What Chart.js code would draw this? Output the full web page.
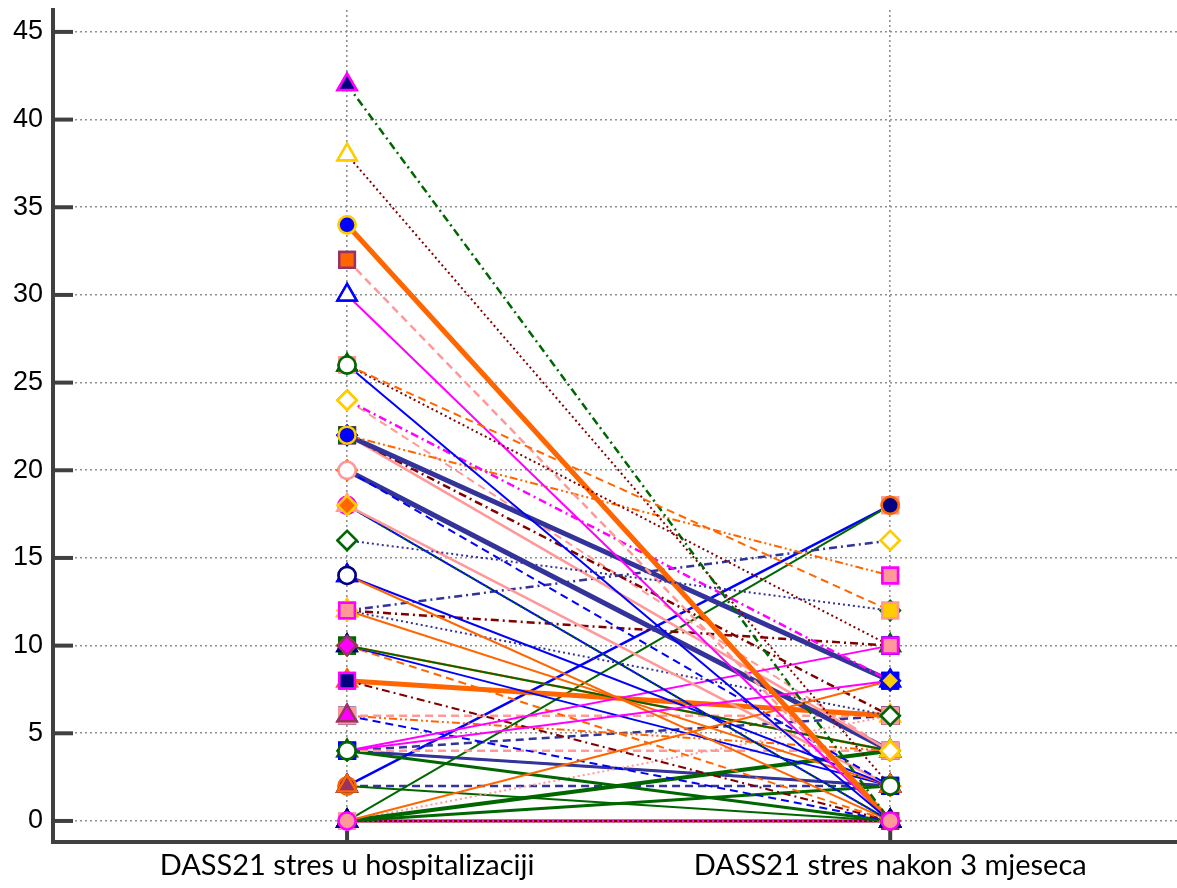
<!DOCTYPE html>
<html>
<head>
<meta charset="utf-8">
<script src="https://cdn.jsdelivr.net/npm/chart.js@4"></script>
<style>
  html, body { margin: 0; padding: 0; background: #fff; }
  #box { width: 1177px; height: 888px; }
</style>
</head>
<body>
<div id="box"><canvas id="chart"></canvas></div>
<script>
// the two measurements
const CATEGORIES = ["DASS21 stres u hospitalizaciji", "DASS21 stres nakon 3 mjeseca"];
const Y_TICKS = [0, 5, 10, 15, 20, 25, 30, 35, 40, 45];

// one entry per patient, paired: stress in hospital -> stress after 3 months
const inHospital = [16, 26, 26, 26, 42, 38, 34, 32, 30, 24, 4, 0, 22, 22, 22, 22, 20, 20, 18, 18,
  18, 14, 14, 12, 12, 12, 4, 12, 10, 10, 10, 10, 8, 8, 6, 6, 6, 0, 4, 4,
  0, 4, 24, 0, 2, 2, 0, 4, 2, 4, 0, 0];
const afterThreeMonths = [12, 12, 10, 0, 0, 2, 0, 0, 0, 8, 8, 8, 14, 8, 6, 4, 2, 4, 2, 0,
  0, 0, 2, 16, 2, 6, 10, 10, 4, 4, 2, 0, 0, 6, 6, 4, 0, 4, 4, 0,
  6, 6, 4, 18, 18, 0, 2, 2, 2, 2, 0, 0];

const C = {
  green: "#006600", maroon: "#800000", orange: "#ff6600", pink: "#ff9999",
  magenta: "#ff00ff", blue: "#0000ff", navy: "#000080", slate: "#333399",
  gold: "#ffcc00", purple: "#993366", white: "#ffffff"
};
const DASH = { solid: [], dot: [2, 3], dash: [8, 5], dd: [8, 4, 2, 4], ddd: [8, 3, 2, 3, 2, 3] };

// line colour, dash, width
const lineStyle = [
  ["slate","dot",2], ["orange","dash",2], ["maroon","dot",2], ["blue","solid",2], ["green","dd",2.5],
  ["maroon","dot",2], ["orange","solid",5], ["pink","dash",2.5], ["magenta","solid",2], ["magenta","dd",2.5],
  ["magenta","solid",2], ["orange","solid",2], ["orange","ddd",2], ["slate","solid",5], ["maroon","dd",2.5],
  ["pink","solid",2.5], ["blue","dash",2], ["slate","solid",5], ["pink","solid",2.5], ["green","dot",2],
  ["blue","solid",2], ["orange","solid",2], ["blue","solid",2], ["slate","dd",2.5], ["orange","solid",2],
  ["slate","dot",2], ["magenta","solid",2], ["maroon","dd",2.5], ["green","solid",2], ["orange","solid",2.5],
  ["blue","solid",2], ["orange","dash",2], ["maroon","dd",2], ["orange","solid",5], ["pink","dash",2.5],
  ["orange","ddd",2], ["blue","dash",2], ["green","solid",4], ["pink","dash",2.5], ["green","solid",3],
  ["pink","dot",2], ["slate","dash",2.5], ["pink","dash",2], ["green","solid",2], ["blue","solid",2.5],
  ["green","solid",2], ["green","solid",3], ["slate","solid",3], ["slate","dash",2.5], ["slate","dd",2],
  ["magenta","dot",2.5], ["maroon","solid",3]
];

// marker shape, fill, border
const markerStyle = [
  ["rectRot","white","green"], ["rect","gold","pink"], ["triangle","navy","green"], ["circle","white","green"],
  ["triangle","navy","magenta"], ["triangle","white","gold"], ["circle","blue","gold"], ["rect","orange","purple"],
  ["triangle","white","blue"], ["rectRot","white","gold"], ["rect","blue","blue"], ["triangle","white","blue"],
  ["rect","pink","magenta"], ["rectRot","gold","blue"], ["rect","green","green"], ["circle","blue","gold"],
  ["rectRot","orange","orange"], ["circle","white","pink"], ["circle","magenta","magenta"], ["triangle","pink","pink"],
  ["rectRot","orange","gold"], ["triangle","white","blue"], ["circle","white","navy"], ["rectRot","white","gold"],
  ["triangle","gold","gold"], ["triangle","gold","gold"], ["rect","blue","blue"], ["rect","pink","magenta"],
  ["rect","green","green"], ["rectRot","orange","orange"], ["triangle","navy","navy"], ["rectRot","magenta","purple"],
  ["triangle","white","orange"], ["rect","navy","magenta"], ["rect","navy","navy"], ["rect","pink","pink"],
  ["triangle","magenta","purple"], ["triangle","green","green"], ["triangle","gold","gold"], ["triangle","green","green"],
  ["rect","pink","pink"], ["rectRot","white","green"], ["rectRot","white","gold"], ["rect","pink","pink"],
  ["circle","navy","orange"], ["triangle","navy","navy"], ["triangle","white","blue"], ["rect","blue","blue"],
  ["triangle","purple","orange"], ["circle","white","green"], ["triangle","navy","navy"], ["circle","pink","magenta"]
];

const RADIUS = { circle: 8.5, rect: 11, rectRot: 9.5, triangle: 11 };
const AXIS = "#404040";

const datasets = inHospital.map((v, i) => {
  const [col, dash, w] = lineStyle[i];
  const [shape, fill, edge] = markerStyle[i];
  return {
    data: [{ x: 1, y: v }, { x: 2, y: afterThreeMonths[i] }],
    borderColor: C[col],
    borderDash: DASH[dash],
    borderWidth: w,
    pointStyle: shape,
    pointRadius: RADIUS[shape],
    pointBackgroundColor: C[fill],
    pointBorderColor: C[edge],
    pointBorderWidth: 2.5,
    clip: false
  };
});

// all markers sit above all lines, later patients on top
const markersOnTop = {
  id: "markersOnTop",
  afterDatasetsDraw(chart) {
    const ctx = chart.ctx;
    chart.data.datasets.forEach((d, i) => {
      chart.getDatasetMeta(i).data.forEach(p => p.draw(ctx, chart.chartArea));
    });
  }
};

// tick marks point into the plot
const innerTicks = {
  id: "innerTicks",
  afterDraw(chart) {
    const ctx = chart.ctx;
    const a = chart.chartArea;
    ctx.save();
    ctx.strokeStyle = AXIS;
    ctx.lineWidth = 4;
    ctx.setLineDash([]);
    for (const v of Y_TICKS) {
      const y = chart.scales.y.getPixelForValue(v);
      ctx.beginPath();
      ctx.moveTo(a.left, y);
      ctx.lineTo(a.left + 20, y);
      ctx.stroke();
    }
    for (const v of [1, 2]) {
      const x = chart.scales.x.getPixelForValue(v);
      ctx.beginPath();
      ctx.moveTo(x, a.bottom);
      ctx.lineTo(x, a.bottom - 11);
      ctx.stroke();
    }
    ctx.restore();
  }
};

const grid = {
  color: "#8f8f8f",
  lineWidth: 1.6,
  drawTicks: false
};

new Chart(document.getElementById("chart").getContext("2d"), {
  type: "line",
  data: { datasets },
  options: {
    responsive: true,
    maintainAspectRatio: false,
    animation: false,
    layout: { autoPadding: false, padding: { top: 10, right: 0, left: 0, bottom: 0 } },
    scales: {
      x: {
        type: "linear",
        min: 0.4586,
        max: 2.528,
        afterBuildTicks: s => { s.ticks = [{ value: 1 }, { value: 2 }]; },
        afterFit: s => { s.height = 46; s.paddingLeft = 0; s.paddingRight = 0; },
        grid: grid,
        border: { display: true, color: AXIS, width: 4, dash: [2, 3] },
        ticks: {
          padding: 6,
          color: "#000",
          font: { family: "Lato", size: 29 },
          callback: v => CATEGORIES[v - 1]
        }
      },
      y: {
        min: -1.2,
        max: 46.25,
        afterBuildTicks: s => { s.ticks = Y_TICKS.map(v => ({ value: v })); },
        afterFit: s => { s.width = 53; s.paddingTop = 0; s.paddingBottom = 0; },
        grid: grid,
        border: { display: true, color: AXIS, width: 4, dash: [2, 3] },
        ticks: {
          padding: 10,
          color: "#000",
          font: { family: "Liberation Sans", size: 27 }
        }
      }
    },
    plugins: {
      legend: { display: false },
      tooltip: { enabled: false },
      title: { display: false }
    }
  },
  plugins: [markersOnTop, innerTicks]
});
</script>
</body>
</html>
